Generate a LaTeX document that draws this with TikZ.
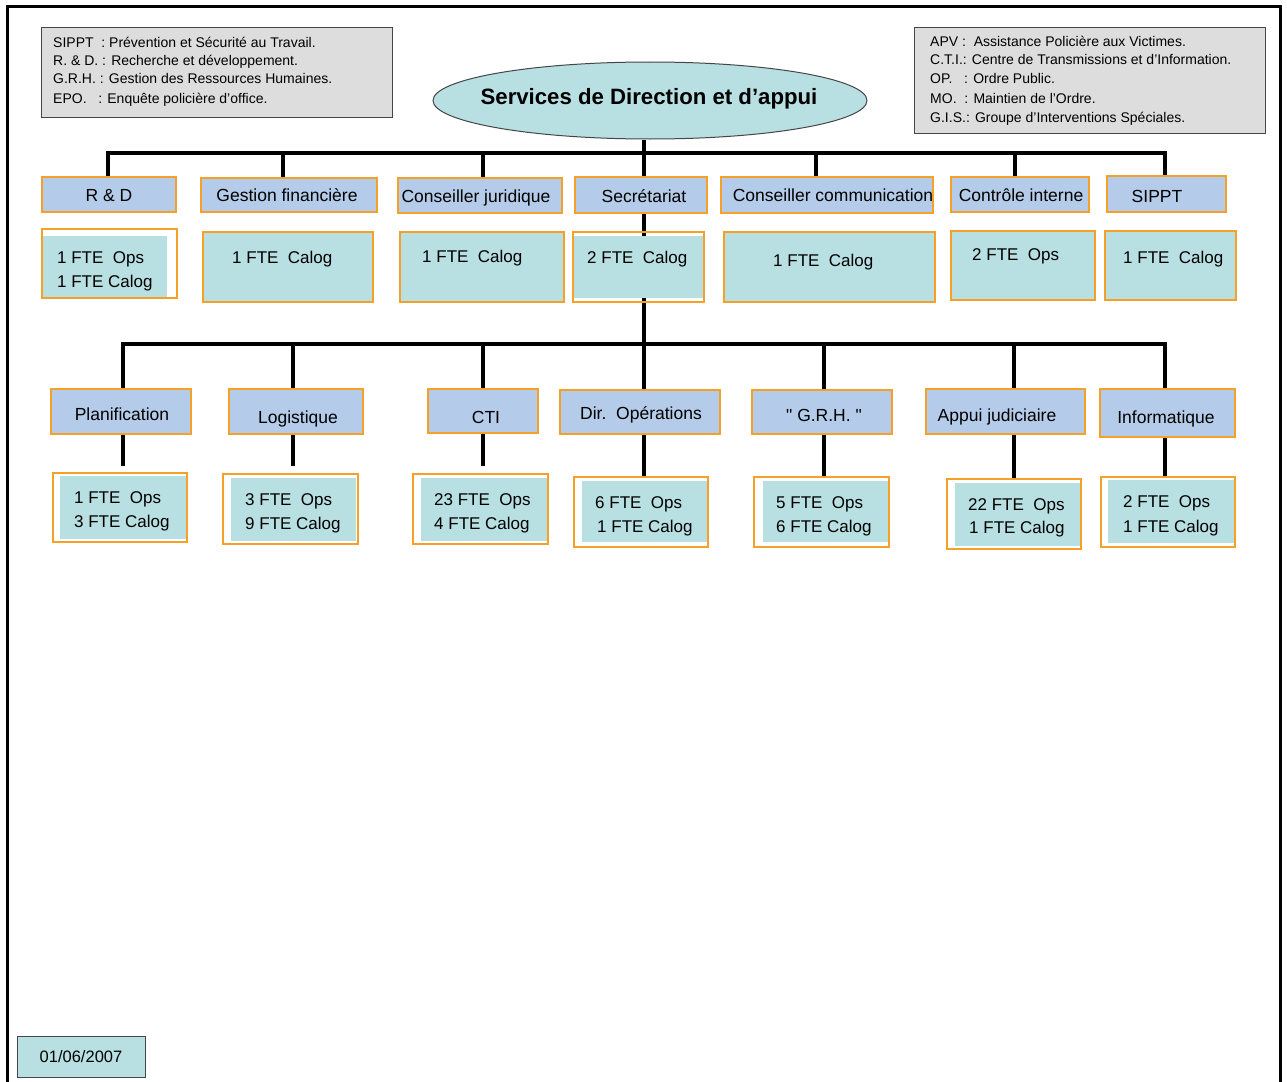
\documentclass[tikz,border=0pt]{standalone}
\usepackage{fontspec}
\setmainfont{Liberation Sans}
% same face without the TeX input mapping, for straight double quotes
\newfontfamily\straightsans{Liberation Sans}
\usetikzlibrary{shapes.geometric}
\pgfdeclarelayer{background}
\pgfsetlayers{background,main}

\definecolor{lblblue}{RGB}{180,204,233}
\definecolor{ftecyan}{RGB}{184,223,225}
\definecolor{boxorange}{RGB}{247,160,40}
\definecolor{legendgray}{RGB}{221,221,221}
\definecolor{edgegray}{RGB}{70,70,70}

% rectangle node given by its corners: name, style, x1, y1, x2, y2
\newcommand\boxnode[6]{%
  \node[#2, minimum width={(#5-#3)*1pt}, minimum height={(#6-#4)*1pt}]
    (#1) at ({(#3+#5)/2},{(#4+#6)/2}) {};}

\begin{document}
\begin{tikzpicture}[x=1pt,y=-1pt,
  lblbox/.style={draw=boxorange, fill=lblblue, line width=1.3pt, inner sep=0pt},
  ftebox/.style={draw=boxorange, fill=ftecyan, line width=1.3pt, inner sep=0pt},
  ftefill/.style={fill=ftecyan, draw=none, inner sep=0pt},
  fteframe/.style={draw=boxorange, line width=1.3pt, inner sep=0pt},
  legendbox/.style={draw=edgegray, fill=legendgray, line width=1pt, inner sep=0pt},
  lbltext/.style={anchor=base, inner sep=0pt, font=\fontsize{17.5}{21}\selectfont},
  ftetext/.style={anchor=base west, inner sep=0pt, font=\fontsize{17}{20}\selectfont},
  legtext/.style={anchor=base west, inner sep=0pt, font=\fontsize{14}{17}\selectfont},
  conn/.style={line width=4pt, black},
]
\useasboundingbox (0,0) rectangle (1287,1081);
\begin{pgfonlayer}{background}
  \fill[white] (0,0) rectangle (1287,1081);
\end{pgfonlayer}

% page frame
\draw[line width=3pt] (7,1095) -- (7,7) -- (1280,7) -- (1280,1095);

% legends
\boxnode{legL}{legendbox}{41}{28}{392}{117}
\node[legtext] (legL1) at (53,48)  {SIPPT~~: Prévention et Sécurité au Travail.};
\node[legtext] (legL2) at (53,66)  {R. \& D. : Recherche et développement.};
\node[legtext] (legL3) at (53,84)  {G.R.H. : Gestion des Ressources Humaines.};
\node[legtext] (legL4) at (53,103) {EPO.~~~: Enquête policière d’office.};

\boxnode{legR}{legendbox}{914}{28}{1265}{133}
\node[legtext] (legR1) at (930,47)  {APV :~~Assistance Policière aux Victimes.};
\node[legtext] (legR2) at (930,65)  {C.T.I.: Centre de Transmissions et d’Information.};
\node[legtext] (legR3) at (930,84)  {OP.~~~: Ordre Public.};
\node[legtext] (legR4) at (930,103) {MO.~~: Maintien de l’Ordre.};
\node[legtext] (legR5) at (930,122) {G.I.S.: Groupe d’Interventions Spéciales.};

% head of the chart
\node[ellipse, draw=edgegray, fill=ftecyan, line width=1pt,
      minimum width=434pt, minimum height=77pt, inner sep=0pt]
  (title) at (650,100.5) {};
\node[anchor=base, inner sep=0pt, font=\bfseries\fontsize{22.2}{26}\selectfont]
  (titleT) at (649,104) {Services de Direction et d’appui};

% ---- first row: direction services ----
\boxnode{rd}{lblbox}{42}{177}{176}{212}
\boxnode{gf}{lblbox}{201}{178}{377}{212}
\boxnode{cj}{lblbox}{398}{178}{562}{213}
\boxnode{secr}{lblbox}{575}{177}{707}{213}
\boxnode{comm}{lblbox}{721}{177}{933}{213}
\boxnode{ctrl}{lblbox}{951}{177}{1089}{212}
\boxnode{sippt}{lblbox}{1107}{176}{1226}{212}

\node[lbltext] (rdT)    at (109,201)  {R \& D};
\node[lbltext] (gfT)    at (287,201)  {Gestion financière};
\node[lbltext] (cjT)    at (476,202)  {Conseiller juridique};
\node[lbltext] (secrT)  at (644,202)  {Secrétariat};
\node[lbltext] (commT)  at (833,201)  {Conseiller communication};
\node[lbltext] (ctrlT)  at (1021,201) {Contrôle interne};
\node[lbltext] (sipptT) at (1157,202) {SIPPT};

% staff of the first row
\boxnode{rdFi}{ftefill}{42}{236}{167}{298}
\boxnode{rdF}{fteframe}{42}{229}{177}{298}
\node[ftetext] (rdF1) at (57,263) {1 FTE~~Ops};
\node[ftetext] (rdF2) at (57,287) {1 FTE Calog};

\boxnode{gfF}{ftebox}{203}{232}{373}{302}
\node[ftetext] (gfF1) at (232,263) {1 FTE~~Calog};

\boxnode{cjF}{ftebox}{400}{232}{564}{302}
\node[ftetext] (cjF1) at (422,262) {1 FTE~~Calog};

\boxnode{secrFi}{ftefill}{573}{236}{703}{298}
\boxnode{secrF}{fteframe}{573}{232}{704}{302}
\node[ftetext] (secrF1) at (587,263) {2 FTE~~Calog};

\boxnode{commF}{ftebox}{724}{232}{935}{302}
\node[ftetext] (commF1) at (773,266) {1 FTE~~Calog};

\boxnode{ctrlF}{ftebox}{951}{231}{1095}{300}
\node[ftetext] (ctrlF1) at (972,260) {2 FTE~~Ops};

\boxnode{sipptF}{ftebox}{1105}{231}{1236}{300}
\node[ftetext] (sipptF1) at (1123,263) {1 FTE~~Calog};

% ---- second row: support services ----
\boxnode{plan}{lblbox}{51}{389}{191}{434}
\boxnode{logi}{lblbox}{229}{389}{363}{434}
\boxnode{cti}{lblbox}{428}{389}{538}{433}
\boxnode{dir}{lblbox}{560}{390}{720}{434}
\boxnode{grh}{lblbox}{752}{390}{892}{434}
\boxnode{appui}{lblbox}{926}{389}{1085}{434}
\boxnode{info}{lblbox}{1100}{389}{1235}{437}

\node[lbltext] (planT)  at (122,420)  {Planification};
\node[lbltext] (logiT)  at (298,423)  {Logistique};
\node[lbltext] (ctiT)   at (486,423)  {CTI};
\node[lbltext] (dirT)   at (641,419)  {Dir.~~Opérations};
\node[lbltext] (grhT)   at (824,421)  {\straightsans "~G.R.H.~"};
\node[lbltext] (appuiT) at (997,421)  {Appui judiciaire};
\node[lbltext] (infoT)  at (1166,423) {Informatique};

% staff of the second row
\boxnode{planFi}{ftefill}{60}{476}{186}{539}
\boxnode{planF}{fteframe}{53}{473}{187}{542}
\node[ftetext] (planF1) at (74,503) {1 FTE~~Ops};
\node[ftetext] (planF2) at (74,527) {3 FTE Calog};

\boxnode{logiFi}{ftefill}{231}{478}{356}{541}
\boxnode{logiF}{fteframe}{223}{474}{358}{544}
\node[ftetext] (logiF1) at (245,505) {3 FTE~~Ops};
\node[ftetext] (logiF2) at (245,529) {9 FTE Calog};

\boxnode{ctiFi}{ftefill}{421}{478}{547}{541}
\boxnode{ctiF}{fteframe}{413}{474}{548}{544}
\node[ftetext] (ctiF1) at (434,505) {23 FTE~~Ops};
\node[ftetext] (ctiF2) at (434,529) {4 FTE Calog};

\boxnode{dirFi}{ftefill}{582}{481}{707}{542}
\boxnode{dirF}{fteframe}{574}{477}{708}{547}
\node[ftetext] (dirF1) at (595,508) {6 FTE~~Ops};
\node[ftetext] (dirF2) at (597,532) {1 FTE Calog};

\boxnode{grhFi}{ftefill}{763}{481}{888}{542}
\boxnode{grhF}{fteframe}{754}{477}{889}{547}
\node[ftetext] (grhF1) at (776,508) {5 FTE~~Ops};
\node[ftetext] (grhF2) at (776,532) {6 FTE Calog};

\boxnode{appuiFi}{ftefill}{955}{483}{1081}{546}
\boxnode{appuiF}{fteframe}{947}{479}{1081}{549}
\node[ftetext] (appuiF1) at (968,510) {22 FTE~~Ops};
\node[ftetext] (appuiF2) at (969,533) {1 FTE Calog};

\boxnode{infoFi}{ftefill}{1108}{480}{1234}{543}
\boxnode{infoF}{fteframe}{1101}{477}{1235}{547}
\node[ftetext] (infoF1) at (1123,507) {2 FTE~~Ops};
\node[ftetext] (infoF2) at (1123,532) {1 FTE Calog};

% date stamp
\node[draw=edgegray, fill=ftecyan, line width=1pt, minimum width=128pt,
      minimum height=41pt, inner sep=0pt, font=\fontsize{16.5}{20}\selectfont]
  (date) at (81,1056.5) {01/06/2007};

% ---- connectors (drawn behind the boxes) ----
\begin{pgfonlayer}{background}
  \coordinate (topjoin) at ([xshift=-6pt]title.south |- 0,153);
  \coordinate (rdD)    at ([xshift=-1pt]rd.north);
  \coordinate (gfD)    at ([xshift=-6pt]gf.north);
  \coordinate (cjD)    at ([xshift=3pt]cj.north);
  \coordinate (commD)  at ([xshift=-11pt]comm.north);
  \coordinate (ctrlD)  at ([xshift=-5pt]ctrl.north);
  \coordinate (sipptD) at ([xshift=-1.5pt]sippt.north);
  \coordinate (secrU)  at ([xshift=2.5pt]secr.north);
  \coordinate (secrD)  at ([xshift=2.5pt]secr.south);

  \draw[conn] ([xshift=-6pt]title.south) -- (topjoin);
  \draw[conn] (rdD) |- (topjoin) -| (sipptD);
  \foreach \d in {gfD,cjD,secrU,commD,ctrlD}
    \draw[conn] (\d) -- (\d |- topjoin);

  \coordinate (botjoin) at (secrD |- 0,344);
  \coordinate (planU)  at ([xshift=2pt]plan.north);
  \coordinate (logiU)  at ([xshift=-3pt]logi.north);
  \coordinate (ctiU)   at (cti.north);
  \coordinate (dirU)   at ([xshift=4pt]dir.north);
  \coordinate (grhU)   at ([xshift=2pt]grh.north);
  \coordinate (appuiU) at ([xshift=8.5pt]appui.north);
  \coordinate (infoU)  at ([xshift=-2.5pt]info.north);

  \draw[conn] (secrD) -- (botjoin);
  \draw[conn] (planU) |- (botjoin) -| (infoU);
  \foreach \d in {logiU,ctiU,dirU,grhU,appuiU}
    \draw[conn] (\d) -- (\d |- botjoin);

  \coordinate (planL)  at ([xshift=2pt]plan.south);
  \coordinate (logiL)  at ([xshift=-3pt]logi.south);
  \coordinate (ctiL)   at (cti.south);
  \coordinate (dirL)   at ([xshift=4pt]dir.south);
  \coordinate (grhL)   at ([xshift=2pt]grh.south);
  \coordinate (appuiL) at ([xshift=8.5pt]appui.south);
  \coordinate (infoL)  at ([xshift=-2.5pt]info.south);

  \draw[conn, shorten >=6pt] (planL) -- (planL |- planF.north);
  \draw[conn, shorten >=7pt] (logiL) -- (logiL |- logiF.north);
  \draw[conn, shorten >=7pt] (ctiL) -- (ctiL |- ctiF.north);
  \draw[conn] (dirL) -- (dirL |- dirF.north);
  \draw[conn] (grhL) -- (grhL |- grhF.north);
  \draw[conn] (appuiL) -- (appuiL |- appuiF.north);
  \draw[conn] (infoL) -- (infoL |- infoF.north);
\end{pgfonlayer}
\end{tikzpicture}
\end{document}
